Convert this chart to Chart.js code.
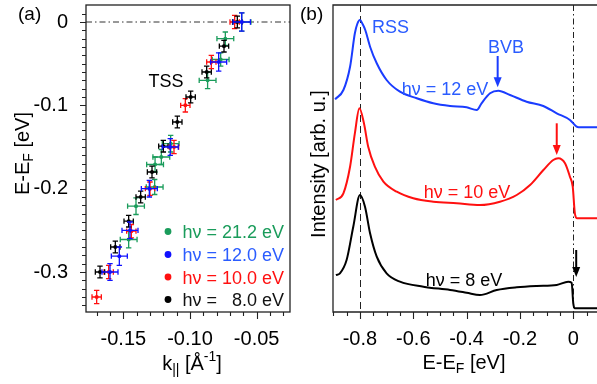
<!DOCTYPE html>
<html><head><meta charset="utf-8">
<script src="https://cdn.jsdelivr.net/npm/chart.js@4.4.1/dist/chart.umd.min.js"></script>
<style>
html,body{margin:0;padding:0;background:#fff;}
#wrap{position:relative;width:597px;height:384px;overflow:hidden;}
canvas{position:absolute;left:0;top:0;}
</style></head><body>
<div id="wrap"><canvas id="ca" width="597" height="384"></canvas><canvas id="cb" width="597" height="384"></canvas></div>
<script>
const FONT = "'Liberation Sans', Arial, Helvetica, sans-serif";

// ---------- Panel (a): TSS dispersion ----------
const aXTicks = [-0.15, -0.10, -0.05];
const aYTicks = [0, -0.1, -0.2, -0.3];
const seriesLabels = ['hν = 21.2 eV', 'hν = 12.0 eV', 'hν = 10.0 eV', 'hν =   8.0 eV'];

const k21 = [-0.0612, -0.0735, -0.0770, -0.0868, -0.1145, -0.1215, -0.1262, -0.1265, -0.1405, -0.1460];
const E21 = [0, -0.020, -0.045, -0.070, -0.146, -0.162, -0.171, -0.198, -0.221, -0.261];
const dk21 = [0.0069, 0.0063, 0.0063, 0.0063, 0.0063, 0.0063, 0.0063, 0.0063, 0.0063, 0.0063];
const dE21 = [0.011, 0.008, 0.008, 0.010, 0.010, 0.009, 0.009, 0.009, 0.010, 0.010];

const k12 = [-0.0612, -0.0785, -0.1148, -0.1305, -0.1450, -0.1530, -0.1600];
const E12 = [0, -0.048, -0.150, -0.200, -0.250, -0.281, -0.300];
const dk12 = [0.0065, 0.0060, 0.0060, 0.0060, 0.0060, 0.0060, 0.0060];
const dE12 = [0.011, 0.011, 0.010, 0.010, 0.010, 0.011, 0.010];

const k10 = [-0.0665, -0.0840, -0.1035, -0.1120, -0.1300, -0.1440, -0.1610, -0.1700];
const E10 = [0, -0.048, -0.100, -0.150, -0.200, -0.251, -0.300, -0.330];
const dk10 = [0.0035, 0.0035, 0.0035, 0.0035, 0.0035, 0.0035, 0.0035, 0.0035];
const dE10 = [0.008, 0.008, 0.008, 0.008, 0.008, 0.008, 0.008, 0.008];

const k8 = [-0.0645, -0.0745, -0.0875, -0.0995, -0.1095, -0.1200, -0.1285, -0.1370, -0.1460, -0.1560, -0.1675];
const E8 = [0, -0.029, -0.060, -0.090, -0.120, -0.149, -0.180, -0.210, -0.239, -0.270, -0.300];
const dk8 = [0.0035, 0.0035, 0.0035, 0.0035, 0.0035, 0.0035, 0.0035, 0.0035, 0.0035, 0.0035, 0.0035];
const dE8 = [0.007, 0.007, 0.007, 0.007, 0.007, 0.007, 0.007, 0.007, 0.007, 0.007, 0.007];

// ---------- Panel (b): EDCs ----------
const bXTicks = [-0.8, -0.6, -0.4, -0.2, 0];
const eEDC12 = [-0.893, -0.862, -0.837, -0.819, -0.810, -0.800, -0.790, -0.780, -0.762, -0.737, -0.700, -0.650, -0.587, -0.525, -0.462, -0.400, -0.362, -0.344, -0.312, -0.281, -0.237, -0.175, -0.1125, -0.062, -0.0125, 0.0125, 0.020, 0.089];
const iEDC12 = [2.127, 2.22, 2.453, 2.787, 2.88, 2.92, 2.88, 2.82, 2.653, 2.487, 2.32, 2.203, 2.137, 2.087, 2.06, 2.047, 2.02, 2.087, 2.187, 2.213, 2.17, 2.103, 2.06, 1.987, 1.92, 1.853, 1.847, 1.847];
const eEDC10 = [-0.890, -0.862, -0.837, -0.819, -0.802, -0.785, -0.769, -0.744, -0.712, -0.662, -0.600, -0.525, -0.437, -0.350, -0.275, -0.212, -0.162, -0.112, -0.075, -0.056, -0.031, -0.0125, -0.002, 0.006, 0.015, 0.089];
const iEDC10 = [1.12, 1.187, 1.453, 1.787, 2.037, 1.887, 1.653, 1.453, 1.303, 1.203, 1.137, 1.103, 1.087, 1.07, 1.103, 1.17, 1.27, 1.42, 1.52, 1.537, 1.487, 1.353, 1.253, 0.987, 0.937, 0.937];
const eEDC8 = [-0.890, -0.875, -0.850, -0.825, -0.800, -0.781, -0.762, -0.737, -0.700, -0.650, -0.562, -0.462, -0.400, -0.350, -0.287, -0.212, -0.137, -0.062, -0.019, -0.006, 0, 0.006, 0.089];
const iEDC8 = [0.37, 0.387, 0.52, 0.853, 1.17, 1.053, 0.787, 0.553, 0.387, 0.303, 0.253, 0.22, 0.193, 0.17, 0.22, 0.247, 0.26, 0.27, 0.303, 0.293, 0.087, 0.037, 0.037];

const GREEN = '#1a9c5b', BLUE = '#1a3cff', BLUE_T = '#2a5cff', RED = '#ff1010', BLACK = '#000000';

function pts(xs, ys) { return xs.map((v, i) => ({x: v, y: ys[i]})); }

function richText(ctx, parts, x, y, size, align, rot, color) {
  const fnt = (k) => (k === 0 ? size : Math.round(size * 0.68)) + 'px ' + FONT;
  const ws = parts.map(p => { ctx.font = fnt(p[1]); return ctx.measureText(p[0]).width; });
  const total = ws.reduce((a, b) => a + b, 0);
  ctx.save();
  ctx.translate(x, y);
  if (rot) ctx.rotate(rot);
  ctx.fillStyle = color || '#000';
  ctx.textBaseline = 'alphabetic';
  ctx.textAlign = 'left';
  let cx = align === 'center' ? -total / 2 : 0;
  parts.forEach((p, i) => {
    ctx.font = fnt(p[1]);
    const dy = p[1] === 1 ? size * 0.22 : (p[1] === 2 ? -size * 0.45 : 0);
    ctx.fillText(p[0], cx, dy);
    cx += ws[i];
  });
  ctx.restore();
}

const panelA = {
  id: 'panelA',
  beforeDatasetsDraw(chart) {
    const {ctx, chartArea: a, scales: {y}} = chart;
    const py = y.getPixelForValue(0);
    ctx.save();
    ctx.strokeStyle = '#333'; ctx.lineWidth = 1; ctx.setLineDash([6, 3, 1.5, 3]);
    ctx.beginPath(); ctx.moveTo(a.left, py); ctx.lineTo(a.right, py); ctx.stroke();
    ctx.restore();
  },
  beforeDatasetDraw(chart, args) {
    const ds = chart.data.datasets[args.index];
    const {ctx, scales: {x, y}} = chart;
    ctx.save();
    ctx.strokeStyle = ds.borderColor; ctx.lineWidth = 1.3;
    ds.data.forEach((p, i) => {
      const px = x.getPixelForValue(p.x), py = y.getPixelForValue(p.y);
      const x1 = x.getPixelForValue(p.x - ds.errX[i]), x2 = x.getPixelForValue(p.x + ds.errX[i]);
      const y1 = y.getPixelForValue(p.y - ds.errY[i]), y2 = y.getPixelForValue(p.y + ds.errY[i]);
      const c = 2.7;
      ctx.beginPath();
      ctx.moveTo(x1, py); ctx.lineTo(x2, py);
      ctx.moveTo(x1, py - c); ctx.lineTo(x1, py + c);
      ctx.moveTo(x2, py - c); ctx.lineTo(x2, py + c);
      ctx.moveTo(px, y1); ctx.lineTo(px, y2);
      ctx.moveTo(px - c, y1); ctx.lineTo(px + c, y1);
      ctx.moveTo(px - c, y2); ctx.lineTo(px + c, y2);
      ctx.stroke();
    });
    ctx.restore();
  },
  afterDraw(chart) {
    const {ctx, chartArea: a, scales: {x, y}} = chart;
    ctx.save();
    ctx.strokeStyle = '#222'; ctx.lineWidth = 1.3;
    ctx.strokeRect(a.left, a.top, a.right - a.left, a.bottom - a.top);
    ctx.lineWidth = 1.1; ctx.strokeStyle = '#222';
    ctx.beginPath();
    for (let i = -34; i <= 1; i++) {
      const py = Math.round(y.getPixelForValue(i / 100)) + 0.5;
      const len = (i % 10 === 0) ? 6 : 4;
      ctx.moveTo(a.left - len, py); ctx.lineTo(a.left, py);
    }
    for (let i = -17; i <= -3; i++) {
      const px = Math.round(x.getPixelForValue(i / 100)) + 0.5;
      const len = (i % 5 === 0) ? 7 : 4;
      ctx.moveTo(px, a.bottom); ctx.lineTo(px, a.bottom + len);
    }
    ctx.stroke();
    ctx.restore();
    // titles
    richText(ctx, [['k', 0], ['||', 1], [' [Å', 0], ['-1', 2], [']', 0]], (a.left + a.right) / 2 + 4, 370, 20, 'center', 0);
    richText(ctx, [['E-E', 0], ['F', 1], [' [eV]', 0]], 29, (a.top + a.bottom) / 2 - 5, 20, 'center', -Math.PI / 2);
    richText(ctx, [['(a)', 0]], 18, 20, 19, 'left', 0);
    // TSS label
    ctx.save();
    ctx.font = '18px ' + FONT; ctx.fillStyle = '#000'; ctx.textAlign = 'center'; ctx.textBaseline = 'alphabetic';
    ctx.fillText('TSS', 166, 87);
    // legend
    const cols = [GREEN, BLUE_T, RED, '#111'];
    const dotCols = [GREEN, '#1010ff', RED, '#000'];
    const rowsY = [231.5, 254.5, 277, 299.5];
    ctx.textAlign = 'left';
    seriesLabels.forEach((lab, i) => {
      ctx.fillStyle = dotCols[i];
      ctx.beginPath(); ctx.arc(168, rowsY[i], 3.4, 0, Math.PI * 2); ctx.fill();
      ctx.fillStyle = cols[i];
      ctx.fillText(lab, 182.5, rowsY[i] + 6.7);
    });
    ctx.restore();
  }
};

const datasetsA = [
  {label: seriesLabels[1], data: pts(k12, E12), errX: dk12, errY: dE12, borderColor: '#1010ff', backgroundColor: '#1010ff'},
  {label: seriesLabels[3], data: pts(k8, E8), errX: dk8, errY: dE8, borderColor: '#000', backgroundColor: '#000'},
  {label: seriesLabels[2], data: pts(k10, E10), errX: dk10, errY: dE10, borderColor: RED, backgroundColor: RED},
  {label: seriesLabels[0], data: pts(k21, E21), errX: dk21, errY: dE21, borderColor: GREEN, backgroundColor: GREEN}
].map(d => Object.assign(d, {pointRadius: 2, pointBorderWidth: 0, showLine: false}));

new Chart(document.getElementById('ca'), {
  type: 'scatter',
  data: {datasets: datasetsA},
  options: {
    responsive: false, animation: false, events: [],
    layout: {padding: {left: 0, right: 307, top: 5, bottom: 0}},
    plugins: {legend: {display: false}, tooltip: {enabled: false}},
    scales: {
      x: {
        type: 'linear', min: -0.178, max: -0.025,
        grid: {display: false}, border: {display: false},
        afterBuildTicks: s => { s.ticks = aXTicks.map(v => ({value: v})); },
        afterFit: s => { s.height = 72; s.paddingLeft = 0; s.paddingRight = 0; },
        ticks: {font: {family: FONT, size: 20}, color: '#000', padding: 7, maxRotation: 0, autoSkip: false,
          callback: v => v.toFixed(2)}
      },
      y: {
        type: 'linear', min: -0.348, max: 0.0204,
        grid: {display: false}, border: {display: false},
        afterBuildTicks: s => { s.ticks = aYTicks.map(v => ({value: v})); },
        afterFit: s => { s.width = 86; s.paddingTop = 0; s.paddingBottom = 0; },
        ticks: {font: {family: FONT, size: 20}, color: '#000', padding: 10, autoSkip: false,
          callback: v => (v === 0 ? '0' : v.toFixed(1))}
      }
    }
  },
  plugins: [panelA]
});

// ---------- Panel (b) ----------
const arrows = [
  {e: -0.2835, from: 2.56, to: 2.247, color: BLUE},
  {e: -0.062, from: 1.887, to: 1.57, color: RED},
  {e: 0.011, from: 0.62, to: 0.35, color: '#000'}
];

const panelB = {
  id: 'panelB',
  beforeDatasetsDraw(chart) {
    const {ctx, chartArea: a, scales: {x}} = chart;
    ctx.save();
    ctx.strokeStyle = '#222'; ctx.lineWidth = 1;
    let px = Math.round(x.getPixelForValue(-0.8)) + 0.5;
    ctx.setLineDash([7, 4]);
    ctx.beginPath(); ctx.moveTo(px, a.top); ctx.lineTo(px, a.bottom); ctx.stroke();
    px = Math.round(x.getPixelForValue(0)) + 0.5;
    ctx.setLineDash([6, 3, 1.5, 3]);
    ctx.beginPath(); ctx.moveTo(px, a.top); ctx.lineTo(px, a.bottom); ctx.stroke();
    ctx.restore();
  },
  afterDraw(chart) {
    const {ctx, chartArea: a, scales: {x, y}} = chart;
    ctx.save();
    ctx.strokeStyle = '#222'; ctx.lineWidth = 1.3;
    ctx.beginPath();
    ctx.moveTo(a.right + 2, a.top); ctx.lineTo(a.left, a.top); ctx.lineTo(a.left, a.bottom); ctx.lineTo(a.right + 2, a.bottom);
    ctx.stroke();
    ctx.lineWidth = 1.1;
    ctx.beginPath();
    for (let i = -18; i <= 1; i++) {
      const v = i * 0.05;
      const px = Math.round(x.getPixelForValue(v)) + 0.5;
      const len = (i % 4 === 0) ? 7 : 4;
      ctx.moveTo(px, a.bottom); ctx.lineTo(px, a.bottom + len);
    }
    ctx.stroke();
    // arrows
    arrows.forEach(ar => {
      const px = x.getPixelForValue(ar.e), y0 = y.getPixelForValue(ar.from), y1 = y.getPixelForValue(ar.to);
      ctx.strokeStyle = ar.color; ctx.fillStyle = ar.color; ctx.lineWidth = 2;
      ctx.beginPath(); ctx.moveTo(px, y0); ctx.lineTo(px, y1 - 8); ctx.stroke();
      ctx.beginPath(); ctx.moveTo(px - 4, y1 - 10); ctx.lineTo(px + 4, y1 - 10); ctx.lineTo(px, y1); ctx.closePath(); ctx.fill();
    });
    // labels
    ctx.font = '18px ' + FONT; ctx.textBaseline = 'alphabetic';
    ctx.fillStyle = BLUE_T; ctx.textAlign = 'left'; ctx.fillText('RSS', 372, 33.3);
    ctx.textAlign = 'center';
    ctx.fillText('BVB', 506, 53.3);
    ctx.fillText('hν = 12 eV', 445, 95);
    ctx.fillStyle = RED; ctx.fillText('hν = 10 eV', 467, 198);
    ctx.fillStyle = '#000'; ctx.fillText('hν = 8 eV', 464, 286);
    ctx.restore();
    richText(ctx, [['E-E', 0], ['F', 1], [' [eV]', 0]], 464, 369, 20, 'center', 0);
    richText(ctx, [['Intensity [arb. u.]', 0]], 325, 164, 20, 'center', -Math.PI / 2);
    richText(ctx, [['(b)', 0]], 300, 20, 19, 'left', 0);
  }
};

const line = (e, i, c) => ({data: pts(e, i), borderColor: c, backgroundColor: c, borderWidth: 2, pointRadius: 0, showLine: true, cubicInterpolationMode: 'monotone'});

new Chart(document.getElementById('cb'), {
  type: 'scatter',
  data: {datasets: [line(eEDC12, iEDC12, BLUE), line(eEDC10, iEDC10, RED), line(eEDC8, iEDC8, '#000')]},
  options: {
    responsive: false, animation: false, events: [],
    layout: {padding: {left: 333, right: 0, top: 5, bottom: 0}},
    plugins: {legend: {display: false}, tooltip: {enabled: false}},
    scales: {
      x: {
        type: 'linear', min: -0.901, max: 0.089,
        grid: {display: false}, border: {display: false},
        afterBuildTicks: s => { s.ticks = bXTicks.map(v => ({value: v})); },
        afterFit: s => { s.height = 72; s.paddingLeft = 0; s.paddingRight = 0; },
        ticks: {font: {family: FONT, size: 20}, color: '#000', padding: 7, maxRotation: 0, autoSkip: false,
          callback: v => (v === 0 ? '0' : v.toFixed(1))}
      },
      y: {type: 'linear', min: 0, max: 3.07, display: false}
    }
  },
  plugins: [panelB]
});
</script>
</body></html>
